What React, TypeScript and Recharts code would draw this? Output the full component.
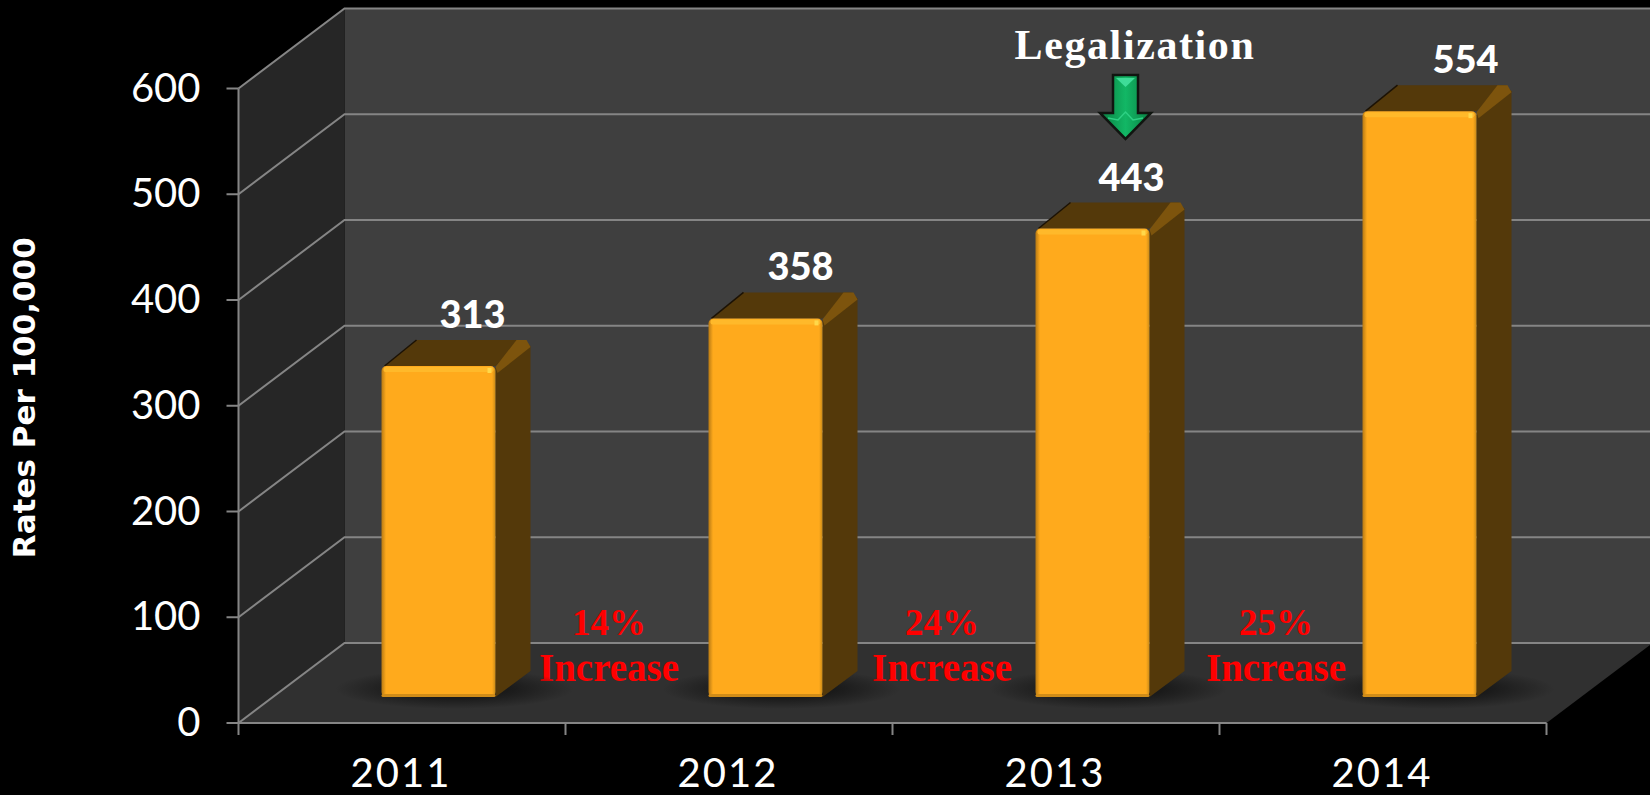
import { BarChart, Bar, XAxis, YAxis, CartesianGrid, LabelList } from "recharts";

const years = ["2011", "2012", "2013", "2014"];
const rates = [313, 358, 443, 554];
const yTicks = [0, 100, 200, 300, 400, 500, 600];
const increases = ["14%", "24%", "25%"];

const chartData = years.map((year, i) => ({ year, rate: rates[i] }));

const WIDTH = 1650;
const HEIGHT = 795;
const LEFT = 238.5;
const TOP = 88.5;
const BOTTOM = 72;
const RIGHT = 103.5;
const BAND_HALF = (WIDTH - LEFT - RIGHT) / years.length / 2;

// depth of the fake 3d room, and of the bars standing in it
const DEPTH_X = 106;
const DEPTH_Y = 80;
const BAR_DX = 36;
const BAR_DY = 26;

// value labels drift right in the original, more on the taller bars
const LABEL_NUDGE = [0, 1, 5, 12];

const AXIS = "#858585";

// the walls sit behind the chart, recharts puts its grid under any child
function Room() {
  const l = LEFT;
  const r = WIDTH - RIGHT;
  const t = TOP;
  const b = HEIGHT - BOTTOM;
  return (
    <svg width={WIDTH} height={HEIGHT} style={{ position: "absolute", left: 0, top: 0 }}>
      <rect x={l + DEPTH_X} y={t - DEPTH_Y} width={WIDTH - l - DEPTH_X} height={b - t} fill="#3f3f3f" />
      <polygon
        points={`${l},${t} ${l + DEPTH_X},${t - DEPTH_Y} ${l + DEPTH_X},${b - DEPTH_Y} ${l},${b}`}
        fill="#262626"
      />
      <polygon
        points={`${l},${b} ${l + DEPTH_X},${b - DEPTH_Y} ${r + DEPTH_X},${b - DEPTH_Y} ${r},${b}`}
        fill="#303030"
      />
    </svg>
  );
}

function GridLine(props: any) {
  const { x1, y1 } = props;
  return (
    <polyline
      points={`${x1},${y1} ${x1 + DEPTH_X},${y1 - DEPTH_Y} ${WIDTH},${y1 - DEPTH_Y}`}
      fill="none"
      stroke={AXIS}
      strokeWidth={2}
    />
  );
}

function Bar3D(props: any) {
  const { x, y, width, height } = props;
  const fx = x + BAR_DX;
  const fy = y - BAR_DY;
  const ox = 35;
  const oy = 26;
  const base = fy + height;
  const rx = fx + width;
  return (
    <g>
      <ellipse cx={fx + width / 2 + 16} cy={base - 8} rx={width / 2 + 62} ry={20} fill="url(#floorShadow)" />
      <polygon
        points={`${fx + 3},${fy} ${fx + ox},${fy - oy} ${rx + ox - 6},${fy - oy} ${rx},${fy}`}
        fill="#54390a"
      />
      <line x1={fx + 3} y1={fy} x2={fx + ox} y2={fy - oy} stroke="#1c1204" strokeWidth={1.5} />
      <polygon
        points={`${rx},${fy + 2} ${rx + ox - 6},${fy - oy} ${rx + ox},${fy - oy + 6} ${rx + ox},${base - oy} ${rx},${base}`}
        fill="#54390a"
      />
      <polygon
        points={`${rx},${fy + 1} ${rx + ox - 14},${fy - oy} ${rx + ox - 4},${fy - oy} ${rx + ox},${fy - oy + 7} ${rx + 2},${fy + 7}`}
        fill="#7d540d"
      />
      <rect x={fx} y={fy} width={width} height={height} rx={5} fill="url(#barFront)" />
      <rect x={fx + 2} y={fy + 1} width={width - 4} height={5} rx={2} fill="#ffb92a" />
      <rect x={rx - 8} y={fy + 2} width={4} height={5} fill="#ffd84a" />
      <rect x={fx} y={base - 3} width={width} height={3} rx={1.5} fill="#d08c18" />
    </g>
  );
}

function ValueLabel(props: any) {
  const { x, y, width, value, index } = props;
  return (
    <text
      x={x + width / 2 + 70 + LABEL_NUDGE[index]}
      y={y - BAR_DY - 38}
      textAnchor="middle"
      fill="#ffffff"
      fontFamily="Lato"
      fontWeight={900}
      fontSize={38}
    >
      {value}
    </text>
  );
}

function YearTick(props: any) {
  const { x, y, payload, index } = props;
  return (
    <g>
      <line x1={x - BAND_HALF} x2={x - BAND_HALF} y1={y} y2={y + 12} stroke={AXIS} strokeWidth={2} />
      {index === years.length - 1 && (
        <line x1={x + BAND_HALF} x2={x + BAND_HALF} y1={y} y2={y + 12} stroke={AXIS} strokeWidth={2} />
      )}
      <text x={x - 1} y={787} textAnchor="middle" fill="#ffffff" fontFamily="Lato" fontSize={40} letterSpacing={2}>
        {payload.value}
      </text>
    </g>
  );
}

function Notes() {
  const xs = [609, 942, 1276];
  return (
    <g fontFamily="Liberation Serif" textAnchor="middle">
      {increases.map((pct, i) => (
        <g key={pct} fill="#ff0000" fontWeight={700}>
          <text x={xs[i]} y={635} fontSize={37}>{pct}</text>
          <text x={xs[i]} y={681} fontSize={39}>Increase</text>
        </g>
      ))}
      <text x={1135} y={59} fill="#ffffff" fontWeight={700} fontSize={42} letterSpacing={1.6}>Legalization</text>
      <polygon
        points="1113,75 1138,75 1138,113 1151,113 1125.5,139 1100,113 1113,113"
        fill="url(#arrowGreen)"
        stroke="#101510"
        strokeWidth={2.5}
      />
      <polygon points="1116,78 1135,78 1125.5,87" fill="#3fdc98" />
      <polyline points="1108,118 1118,120 1125.5,112 1133,120 1143,118" fill="none" stroke="#2ed084" strokeWidth={1.5} />
    </g>
  );
}

export default function App() {
  return (
    <div style={{ width: WIDTH, height: HEIGHT, background: "#000", position: "absolute", left: 0, top: 0, overflow: "hidden" }}>
      <style>{"body{margin:0;background:#000}"}</style>
      <Room />
      <BarChart
        width={WIDTH}
        height={HEIGHT}
        data={chartData}
        margin={{ top: TOP, right: RIGHT, left: 0, bottom: 0 }}
        style={{ position: "absolute", left: 0, top: 0 }}
      >
        <defs>
          <radialGradient id="floorShadow">
            <stop offset="0.45" stopColor="#1a1a1a" stopOpacity={1} />
            <stop offset="1" stopColor="#1a1a1a" stopOpacity={0} />
          </radialGradient>
          <linearGradient id="barFront" x1="0" y1="0" x2="1" y2="0">
            <stop offset="0" stopColor="#b87a14" />
            <stop offset="0.04" stopColor="#ffaa1c" />
            <stop offset="0.97" stopColor="#ffaa1c" />
            <stop offset="1" stopColor="#c98a18" />
          </linearGradient>
          <linearGradient id="arrowGreen" x1="0" y1="0" x2="1" y2="0">
            <stop offset="0" stopColor="#0a7f42" />
            <stop offset="0.5" stopColor="#12b765" />
            <stop offset="1" stopColor="#0a7f42" />
          </linearGradient>
        </defs>
        <CartesianGrid vertical={false} horizontal={(props: any) => <GridLine key={props.key} {...props} />} />
        <XAxis
          dataKey="year"
          height={BOTTOM}
          axisLine={{ stroke: AXIS, strokeWidth: 2 }}
          tickLine={false}
          tickMargin={0}
          tickSize={0}
          interval={0}
          tick={YearTick}
        />
        <YAxis
          domain={[0, 600]}
          ticks={yTicks}
          width={LEFT}
          axisLine={{ stroke: AXIS, strokeWidth: 2 }}
          tickLine={{ stroke: AXIS, strokeWidth: 2 }}
          tickSize={12}
          tickMargin={26}
          tick={{ fill: "#ffffff", fontFamily: "Lato", fontSize: 40, dy: -1 }}
          label={{
            value: "Rates Per 100,000",
            angle: -90,
            position: "insideLeft",
            offset: 0,
            dx: 24,
            dy: -8,
            fill: "#ffffff",
            fontFamily: "DejaVu Sans",
            fontWeight: 700,
            fontSize: 31,
            style: { textAnchor: "middle" },
          }}
        />
        <Bar dataKey="rate" barSize={114} shape={Bar3D} isAnimationActive={false}>
          <LabelList dataKey="rate" content={ValueLabel} />
        </Bar>
        <Notes />
      </BarChart>
    </div>
  );
}
